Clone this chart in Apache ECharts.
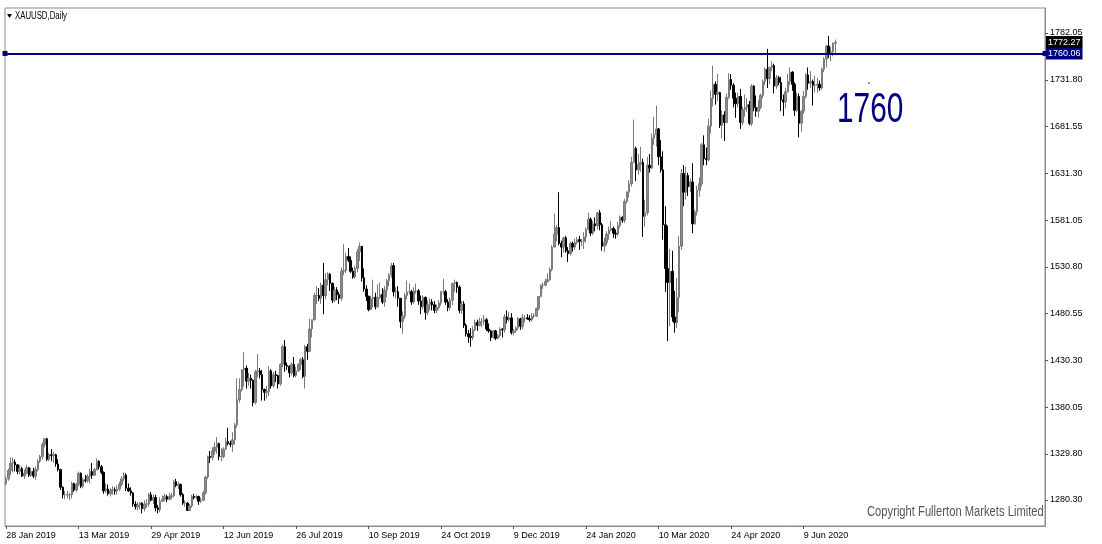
<!DOCTYPE html>
<html><head><meta charset="utf-8">
<script src="https://cdn.jsdelivr.net/npm/echarts@6/dist/echarts.min.js"></script>
<style>html,body{margin:0;padding:0;background:#fff}#c{width:1102px;height:544px}</style>
</head><body><div id="c"></div>
<script>
const FONT = "'Liberation Sans',Arial,sans-serif";

// Daily XAUUSD rows: [day of month, open, high, low, close]
const jan2019 = [[28,1298,1306,1296,1303],[29,1303,1314,1301,1312],[30,1312,1326,1307,1320],[31,1320,1326,1310,1321]];
const feb2019 = [[1,1321,1324,1311,1318],[4,1318,1319,1308,1311],[5,1311,1318,1308,1314],[6,1314,1316,1305,1306],[7,1306,1313,1303,1309],[8,1309,1318,1308,1315],[11,1315,1316,1305,1307],[12,1307,1315,1305,1311],[13,1311,1315,1304,1306],[14,1306,1316,1302,1313],[15,1313,1324,1311,1322],[18,1322,1329,1320,1327],[19,1327,1342,1324,1340],[20,1340,1347,1337,1346],[21,1346,1347,1322,1324],[22,1324,1331,1322,1329],[25,1329,1335,1322,1328],[26,1328,1332,1320,1329],[27,1329,1330,1316,1319],[28,1319,1324,1311,1313]];
const mar2019 = [[1,1313,1314,1291,1294],[4,1294,1295,1282,1286],[5,1286,1290,1281,1286],[6,1286,1290,1282,1286],[7,1286,1288,1280,1286],[8,1286,1300,1282,1298],[11,1298,1299,1289,1291],[12,1291,1299,1289,1297],[13,1297,1311,1295,1309],[14,1309,1310,1293,1295],[15,1295,1304,1293,1302],[18,1302,1307,1299,1301],[19,1301,1308,1299,1306],[20,1306,1314,1298,1311],[21,1311,1320,1303,1307],[22,1307,1315,1306,1313],[25,1313,1325,1312,1322],[26,1322,1323,1313,1316],[27,1316,1318,1308,1310],[28,1310,1311,1287,1290],[29,1290,1298,1288,1292]];
const apr2019 = [[1,1292,1297,1285,1287],[2,1287,1293,1284,1291],[3,1291,1295,1286,1291],[4,1291,1294,1286,1290],[5,1290,1296,1286,1292],[8,1292,1300,1290,1297],[9,1297,1306,1295,1303],[10,1303,1310,1301,1307],[11,1307,1309,1290,1293],[12,1293,1298,1289,1290],[15,1290,1294,1285,1288],[16,1288,1289,1273,1276],[17,1276,1279,1270,1273],[18,1273,1278,1269,1275],[22,1275,1278,1270,1277],[23,1277,1278,1266,1271],[24,1271,1280,1268,1276],[25,1276,1281,1272,1276],[26,1276,1288,1273,1286],[29,1286,1289,1279,1280],[30,1280,1286,1276,1283]];
const may2019 = [[1,1283,1286,1268,1272],[2,1272,1275,1266,1270],[3,1270,1283,1267,1279],[6,1279,1285,1278,1281],[7,1281,1287,1279,1284],[8,1284,1286,1278,1281],[9,1281,1288,1280,1284],[10,1284,1288,1281,1285],[13,1285,1302,1283,1300],[14,1300,1303,1294,1296],[15,1296,1300,1292,1297],[16,1297,1298,1284,1286],[17,1286,1288,1275,1277],[20,1277,1280,1273,1277],[21,1277,1278,1269,1269],[22,1269,1276,1269,1274],[23,1274,1286,1272,1284],[24,1284,1287,1281,1283],[27,1283,1286,1281,1284],[28,1284,1285,1275,1279],[29,1279,1283,1277,1280],[30,1280,1290,1279,1288],[31,1288,1306,1286,1305]];
const jun2019 = [[3,1305,1328,1303,1327],[4,1327,1333,1320,1326],[5,1326,1337,1323,1333],[6,1333,1342,1329,1337],[7,1337,1348,1330,1341],[10,1341,1342,1323,1327],[11,1327,1336,1322,1327],[12,1327,1337,1325,1335],[13,1335,1347,1334,1343],[14,1343,1358,1339,1341],[17,1341,1344,1337,1340],[18,1340,1353,1332,1345],[19,1345,1363,1340,1361],[20,1361,1411,1358,1388],[21,1388,1411,1385,1399],[24,1399,1421,1397,1420],[25,1420,1439,1402,1422],[26,1422,1425,1400,1408],[27,1408,1417,1403,1411],[28,1411,1415,1400,1409]];
const jul2019 = [[1,1409,1410,1381,1385],[2,1385,1420,1383,1418],[3,1418,1437,1412,1419],[4,1419,1422,1411,1415],[5,1415,1420,1387,1399],[8,1399,1400,1387,1396],[9,1396,1403,1389,1397],[10,1397,1424,1392,1419],[11,1419,1421,1400,1403],[12,1403,1418,1401,1415],[15,1415,1419,1407,1414],[16,1414,1415,1400,1405],[17,1405,1427,1403,1426],[18,1426,1447,1423,1445],[19,1445,1452,1418,1425],[22,1425,1428,1420,1424],[23,1424,1425,1412,1417],[24,1417,1428,1414,1426],[25,1426,1434,1412,1414],[26,1414,1423,1412,1419],[29,1419,1427,1418,1426],[30,1426,1433,1420,1431],[31,1431,1434,1411,1413]];
const aug2019 = [[1,1413,1447,1400,1445],[2,1445,1448,1431,1440],[5,1440,1475,1439,1464],[6,1464,1474,1455,1474],[7,1474,1503,1473,1500],[8,1500,1510,1491,1500],[9,1500,1508,1494,1497],[12,1497,1514,1491,1511],[13,1511,1535,1480,1500],[14,1500,1524,1496,1517],[15,1517,1525,1511,1523],[16,1523,1524,1505,1513],[19,1513,1514,1492,1495],[20,1495,1509,1493,1506],[21,1506,1509,1495,1501],[22,1501,1504,1491,1497],[23,1497,1530,1494,1526],[26,1526,1555,1522,1527],[27,1527,1546,1524,1542],[28,1542,1551,1536,1538],[29,1538,1542,1524,1526],[30,1526,1530,1518,1520]];
const sep2019 = [[2,1520,1532,1518,1529],[3,1529,1550,1525,1547],[4,1547,1557,1537,1553],[5,1553,1553,1515,1519],[6,1519,1529,1504,1507],[9,1507,1511,1494,1499],[10,1499,1500,1483,1485],[11,1485,1500,1484,1497],[12,1497,1517,1487,1498],[13,1498,1503,1485,1488],[16,1488,1512,1487,1498],[17,1498,1514,1496,1501],[18,1501,1508,1491,1493],[19,1493,1510,1488,1506],[20,1506,1518,1498,1516],[23,1516,1524,1510,1522],[24,1522,1535,1519,1532],[25,1532,1535,1499,1504],[26,1504,1509,1497,1504],[27,1504,1510,1488,1497],[30,1497,1497,1465,1472]];
const oct2019 = [[1,1472,1483,1459,1478],[2,1478,1503,1475,1500],[3,1500,1516,1496,1504],[4,1504,1513,1501,1504],[7,1504,1506,1490,1493],[8,1493,1509,1491,1505],[9,1505,1513,1502,1505],[10,1505,1507,1490,1494],[11,1494,1500,1480,1488],[14,1488,1500,1485,1498],[15,1498,1499,1474,1482],[16,1482,1495,1479,1490],[17,1490,1497,1484,1493],[18,1493,1496,1484,1490],[21,1490,1494,1481,1484],[22,1484,1490,1481,1487],[23,1487,1495,1485,1492],[24,1492,1505,1489,1504],[25,1504,1518,1501,1504],[28,1504,1506,1490,1493],[29,1493,1496,1483,1487],[30,1487,1498,1484,1495],[31,1495,1514,1490,1513]];
const nov2019 = [[1,1513,1517,1504,1514],[4,1514,1515,1503,1509],[5,1509,1511,1481,1484],[6,1484,1494,1480,1491],[7,1491,1494,1465,1468],[8,1468,1470,1456,1459],[11,1459,1463,1449,1456],[12,1456,1465,1445,1455],[13,1455,1467,1452,1463],[14,1463,1474,1462,1471],[15,1471,1474,1462,1468],[18,1468,1476,1467,1472],[19,1472,1476,1466,1472],[20,1472,1479,1468,1474],[21,1474,1476,1462,1464],[22,1464,1470,1460,1462],[25,1462,1463,1451,1455],[26,1455,1463,1454,1462],[27,1462,1463,1452,1454],[28,1454,1459,1453,1457],[29,1457,1466,1455,1464]];
const dec2019 = [[2,1464,1465,1455,1463],[3,1463,1480,1460,1477],[4,1477,1484,1470,1474],[5,1474,1482,1472,1476],[6,1476,1481,1458,1460],[9,1460,1464,1457,1462],[10,1462,1467,1460,1465],[11,1465,1477,1463,1475],[12,1475,1476,1463,1467],[13,1467,1480,1464,1476],[16,1476,1479,1471,1476],[17,1476,1480,1474,1475],[18,1475,1479,1472,1474],[19,1474,1481,1472,1478],[20,1478,1481,1476,1478],[23,1478,1487,1477,1486],[24,1486,1499,1484,1499],[26,1499,1512,1498,1511],[27,1511,1514,1507,1511],[30,1511,1518,1510,1515],[31,1515,1524,1514,1517]];
const jan2020 = [[2,1517,1530,1516,1528],[3,1528,1554,1526,1552],[6,1552,1588,1552,1566],[7,1566,1576,1558,1573],[8,1573,1611,1554,1556],[9,1556,1559,1541,1552],[10,1552,1563,1546,1562],[13,1562,1564,1546,1548],[14,1548,1552,1536,1545],[15,1545,1558,1543,1556],[16,1556,1558,1547,1552],[17,1552,1561,1549,1557],[20,1557,1563,1555,1560],[21,1560,1564,1549,1558],[22,1558,1561,1553,1558],[23,1558,1568,1550,1563],[24,1563,1573,1557,1571],[27,1571,1589,1570,1582],[28,1582,1584,1564,1567],[29,1567,1580,1565,1577],[30,1577,1584,1569,1575],[31,1575,1590,1571,1589]];
const feb2020 = [[3,1589,1592,1570,1576],[4,1576,1578,1548,1553],[5,1553,1562,1547,1557],[6,1557,1569,1554,1566],[7,1566,1574,1560,1570],[10,1570,1580,1569,1572],[11,1572,1574,1562,1567],[12,1567,1571,1561,1566],[13,1566,1579,1564,1575],[14,1575,1586,1572,1584],[17,1584,1585,1578,1581],[18,1581,1604,1578,1601],[19,1601,1612,1599,1611],[20,1611,1624,1605,1620],[21,1620,1649,1617,1643],[24,1643,1689,1643,1658],[25,1658,1660,1623,1635],[26,1635,1652,1630,1641],[27,1641,1660,1633,1643],[28,1643,1647,1563,1585]];
const mar2020 = [[2,1585,1603,1574,1589],[3,1589,1649,1586,1640],[4,1640,1652,1632,1637],[5,1637,1674,1636,1669],[6,1669,1692,1662,1673],[9,1673,1704,1660,1679],[10,1679,1680,1640,1649],[11,1649,1667,1632,1635],[12,1635,1655,1560,1576],[13,1576,1596,1504,1529],[16,1529,1575,1451,1514],[17,1514,1550,1467,1526],[18,1526,1548,1472,1477],[19,1477,1505,1460,1471],[20,1471,1519,1465,1498],[23,1498,1564,1482,1553],[24,1553,1636,1549,1631],[25,1631,1640,1596,1611],[26,1611,1638,1603,1629],[27,1629,1632,1607,1617],[30,1617,1626,1611,1622],[31,1622,1642,1567,1577]];
const apr2020 = [[1,1577,1592,1576,1590],[2,1590,1618,1586,1613],[3,1613,1627,1606,1620],[6,1620,1664,1617,1662],[7,1662,1672,1640,1647],[8,1647,1659,1640,1646],[9,1646,1690,1644,1682],[13,1682,1720,1674,1712],[14,1712,1747,1703,1727],[15,1727,1730,1705,1716],[16,1716,1738,1709,1718],[17,1718,1719,1680,1683],[20,1683,1699,1669,1694],[21,1694,1698,1666,1686],[22,1686,1717,1685,1713],[23,1713,1739,1711,1732],[24,1732,1738,1721,1726],[27,1726,1728,1702,1712],[28,1712,1718,1691,1706],[29,1706,1718,1702,1714],[30,1714,1722,1679,1686]];
const may2020 = [[1,1686,1703,1683,1700],[4,1700,1716,1692,1702],[5,1702,1712,1697,1705],[6,1705,1709,1683,1685],[7,1685,1727,1682,1725],[8,1725,1726,1698,1702],[11,1702,1715,1692,1698],[12,1698,1710,1691,1702],[13,1702,1717,1700,1715],[14,1715,1732,1712,1730],[15,1730,1745,1726,1743],[18,1743,1765,1723,1733],[19,1733,1746,1727,1745],[20,1745,1752,1741,1747],[21,1747,1749,1717,1725],[22,1725,1737,1722,1734],[25,1734,1736,1726,1729],[26,1729,1735,1698,1710],[27,1710,1716,1693,1708],[28,1708,1723,1701,1719],[29,1719,1738,1718,1730]];
const jun2020 = [[1,1730,1745,1726,1740],[2,1740,1741,1720,1727],[3,1727,1729,1693,1699],[4,1699,1718,1697,1714],[5,1714,1717,1670,1685],[8,1685,1699,1676,1698],[9,1698,1720,1695,1714],[10,1714,1739,1712,1737],[11,1737,1745,1721,1728],[12,1728,1741,1723,1730],[15,1730,1732,1704,1726],[16,1726,1736,1718,1726],[17,1726,1734,1718,1727],[18,1727,1731,1720,1723],[19,1723,1745,1721,1743],[22,1743,1756,1740,1754],[23,1754,1769,1745,1768],[24,1768,1779,1755,1761],[25,1761,1767,1752,1762],[26,1762,1772,1757,1771],[29,1771,1775,1760,1772]];

const months = [
  [2019,'Jan',jan2019],[2019,'Feb',feb2019],[2019,'Mar',mar2019],[2019,'Apr',apr2019],
  [2019,'May',may2019],[2019,'Jun',jun2019],[2019,'Jul',jul2019],[2019,'Aug',aug2019],
  [2019,'Sep',sep2019],[2019,'Oct',oct2019],[2019,'Nov',nov2019],[2019,'Dec',dec2019],
  [2020,'Jan',jan2020],[2020,'Feb',feb2020],[2020,'Mar',mar2020],[2020,'Apr',apr2020],
  [2020,'May',may2020],[2020,'Jun',jun2020]
];

const xTickLabels = ['28 Jan 2019','13 Mar 2019','29 Apr 2019','12 Jun 2019','26 Jul 2019','10 Sep 2019',
  '24 Oct 2019','9 Dec 2019','24 Jan 2020','10 Mar 2020','24 Apr 2020','9 Jun 2020'];
const yTickLabels = [1280.30,1329.80,1380.05,1430.30,1480.55,1530.80,1581.05,1631.30,1681.55,1731.80,1782.05];
const levelLine = 1760.06;
const lastPrice = 1772.27;
const noteText = '1760';
const chartTitle = 'XAUUSD,Daily';
const copyright = 'Copyright Fullerton Markets Limited';

// build categories and candle data
const cats = [];
const candles = [];
months.forEach(([y, m, rows]) => {
  rows.forEach(([d, o, h, l, c]) => {
    cats.push(d + ' ' + m + ' ' + y);
    candles.push([o, c, l, h]);
  });
});
const TOTAL_SLOTS = 459; // chart shift space on the right (empty slots)
for (let i = cats.length; i < TOTAL_SLOTS; i++) cats.push('_' + i);
const tickSet = new Set(xTickLabels);

const chart = echarts.init(document.getElementById('c'), null, {renderer: 'canvas'});
chart.setOption({
  animation: false,
  backgroundColor: '#ffffff',
  grid: {left: 5, right: 57, top: 8, bottom: 18, show: true, borderColor: '#8c8c8c', borderWidth: 1, backgroundColor: '#fff'},
  xAxis: {
    type: 'category', data: cats, boundaryGap: true,
    axisLine: {show: true, lineStyle: {color: '#8c8c8c'}},
    axisTick: {show: true, alignWithLabel: true, length: 3, lineStyle: {color: '#555'},
      interval: (i, v) => tickSet.has(v)},
    axisLabel: {show: true, interval: (i, v) => tickSet.has(v), align: 'left', margin: 5,
      fontFamily: FONT, fontSize: 9, color: '#000'},
    splitLine: {show: false}
  },
  yAxis: {
    type: 'value', position: 'right', min: 1252.37, max: 1808.91, scale: true,
    axisLine: {show: true, lineStyle: {color: '#8c8c8c'}},
    axisTick: {show: true, length: 3, lineStyle: {color: '#555'}, customValues: yTickLabels},
    axisLabel: {show: true, customValues: yTickLabels, formatter: v => v.toFixed(2), margin: 5,
      fontFamily: FONT, fontSize: 9, color: '#000'},
    splitLine: {show: false}
  },
  series: [{
    type: 'candlestick', data: candles, barWidth: 2,
    itemStyle: {color: '#8c8c8c', color0: '#000000', borderColor: '#7a7a7a', borderColor0: '#000000', borderWidth: 1},
    markLine: {
      silent: true, animation: false, symbol: 'rect', symbolSize: 5,
      data: [
        {yAxis: levelLine, symbol: 'rect', symbolSize: 5,
         lineStyle: {color: '#000080', width: 2, type: 'solid'},
         label: {show: true, position: 'end', distance: 1, formatter: levelLine.toFixed(2),
           backgroundColor: '#000080', color: '#fff', fontFamily: FONT, fontSize: 9, padding: [2, 2, 1, 2]}},
        {yAxis: lastPrice, symbol: 'none',
         lineStyle: {color: 'rgba(0,0,0,0)', width: 0},
         label: {show: true, position: 'end', distance: 1, formatter: lastPrice.toFixed(2),
           backgroundColor: '#000', color: '#fff', fontFamily: FONT, fontSize: 9, padding: [2, 2, 1, 2]}}
      ]
    }
  }],
  graphic: [
    {type: 'polygon', shape: {points: [[7, 14], [12, 14], [9.5, 18]]}, style: {fill: '#000'}},
    {type: 'text', x: 15, y: 11, scaleX: 0.78, style: {text: chartTitle, font: '10px ' + FONT, fill: '#000', textAlign: 'left', textVerticalAlign: 'top'}},
    {type: 'text', x: 867, y: 505, scaleX: 0.8, style: {text: copyright, font: '14px ' + FONT, fill: '#555', textAlign: 'left', textVerticalAlign: 'top'}},
    {type: 'text', x: 837, y: 89, scaleX: 0.71, style: {text: noteText, font: '42px ' + FONT, fill: '#000080', textAlign: 'left', textVerticalAlign: 'top'}},
    {type: 'circle', shape: {cx: 869, cy: 83, r: 0.8}, style: {fill: '#000080'}}
  ]
});
</script></body></html>
